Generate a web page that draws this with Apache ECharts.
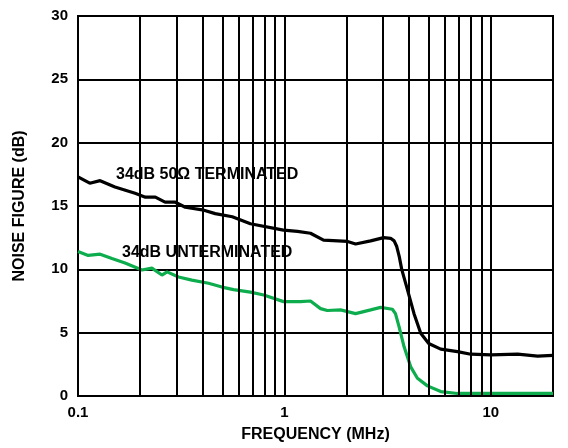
<!DOCTYPE html>
<html>
<head>
<meta charset="utf-8">
<script src="https://cdn.jsdelivr.net/npm/echarts@6/dist/echarts.min.js"></script>
<style>html,body{margin:0;padding:0;background:#fff;}#c{width:568px;height:448px;}</style>
</head>
<body>
<div id="c"></div>
<script>
// Frequencies (MHz) and noise figure (dB)
var terminatedFreq = [0.1,0.114,0.128,0.151,0.189,0.212,0.237,0.264,0.296,0.331,0.400,0.462,0.559,0.684,0.989,1.157,1.337,1.547,2.022,2.212,2.616,3.024,3.270,3.40,3.50,3.60,3.70,3.943,4.244,4.574,5.0,5.718,6.893,7.996,10,13.48,16.85,20];
var terminatedNF   = [17.3,16.8,17.0,16.5,16.0,15.7,15.7,15.3,15.3,14.9,14.7,14.4,14.15,13.6,13.1,13.0,12.85,12.3,12.2,12.0,12.25,12.5,12.45,12.25,11.8,11.0,10.0,8.4,6.5,4.95,4.15,3.7,3.5,3.3,3.25,3.3,3.15,3.2];
var unterminatedFreq = [0.1,0.112,0.128,0.146,0.169,0.204,0.228,0.255,0.270,0.307,0.356,0.429,0.498,0.567,0.684,0.794,0.99,1.196,1.337,1.496,1.613,1.870,2.212,2.616,2.924,3.333,3.45,3.589,3.796,4.090,4.408,4.929,5.718,6.893,9.639,13.98,20];
var unterminatedNF   = [11.4,11.1,11.2,10.85,10.5,9.95,10.1,9.55,9.8,9.4,9.15,8.9,8.6,8.4,8.2,7.97,7.45,7.45,7.5,6.9,6.75,6.8,6.5,6.8,7.0,6.85,6.5,5.5,3.9,2.3,1.4,0.8,0.35,0.2,0.2,0.2,0.2];
var xTickLabels = [0.1, 1, 10];
var xGridFreqs = [0.2,0.3,0.4,0.5,0.6,0.7,0.8,0.9,1,2,3,4,5,6,7,8,9,10];
var yMin = 0, yMax = 30, yStep = 5;
var label1 = '34dB 50Ω TERMINATED';
var label2 = '34dB UNTERMINATED';

function zip(a, b) { return a.map(function (v, i) { return [v, b[i]]; }); }

var FONT = '"Liberation Sans", Arial, Helvetica, sans-serif';
var chart = echarts.init(document.getElementById('c'), null, {renderer: 'canvas'});
chart.setOption({
  animation: false,
  backgroundColor: '#fff',
  grid: {left: 78, right: 15, top: 16, bottom: 52, show: true, borderColor: '#000', borderWidth: 2},
  xAxis: {
    type: 'log', logBase: 10, min: 0.1, max: 20,
    name: 'FREQUENCY (MHz)', nameLocation: 'middle', nameGap: 31,
    nameTextStyle: {fontFamily: FONT, fontWeight: 'bold', fontSize: 16, color: '#000'},
    axisLine: {show: true, lineStyle: {color: '#000', width: 2}},
    axisTick: {show: false},
    splitLine: {show: false},
    axisLabel: {
      fontFamily: FONT, fontWeight: 'bold', fontSize: 15, color: '#000', margin: 9,
      showMinLabel: true, showMaxLabel: true,
      formatter: function (v) {
        for (var i = 0; i < xTickLabels.length; i++) {
          if (Math.abs(v - xTickLabels[i]) < xTickLabels[i] * 1e-6) return String(xTickLabels[i]);
        }
        return '';
      }
    }
  },
  yAxis: {
    type: 'value', min: yMin, max: yMax, interval: yStep,
    name: 'NOISE FIGURE (dB)', nameLocation: 'middle', nameGap: 50, nameRotate: 90,
    nameTextStyle: {fontFamily: FONT, fontWeight: 'bold', fontSize: 16, color: '#000'},
    axisLine: {show: true, lineStyle: {color: '#000', width: 2}},
    axisTick: {show: false},
    splitLine: {show: true, lineStyle: {color: '#000', width: 2}},
    axisLabel: {fontFamily: FONT, fontWeight: 'bold', fontSize: 15, color: '#000', margin: 10}
  },
  series: [
    {
      type: 'line', data: [], z: 1, silent: true,
      markLine: {
        silent: true, symbol: 'none', label: {show: false},
        lineStyle: {color: '#000', width: 2, type: 'solid'},
        data: xGridFreqs.map(function (f) { return {xAxis: f}; })
      }
    },
    {
      type: 'line', data: zip(terminatedFreq, terminatedNF), z: 3,
      showSymbol: false, symbol: 'none',
      lineStyle: {color: '#000', width: 3.2}
    },
    {
      type: 'line', data: zip(unterminatedFreq, unterminatedNF), z: 3,
      showSymbol: false, symbol: 'none',
      lineStyle: {color: '#0dad4e', width: 3.2}
    }
  ],
  graphic: [
    {type: 'text', left: 116, top: 167, z: 10,
     style: {text: label1, font: 'bold 16px ' + FONT, fill: '#000'}},
    {type: 'text', left: 122, top: 245, z: 10,
     style: {text: label2, font: 'bold 16px ' + FONT, fill: '#000'}}
  ]
});
</script>
</body>
</html>
